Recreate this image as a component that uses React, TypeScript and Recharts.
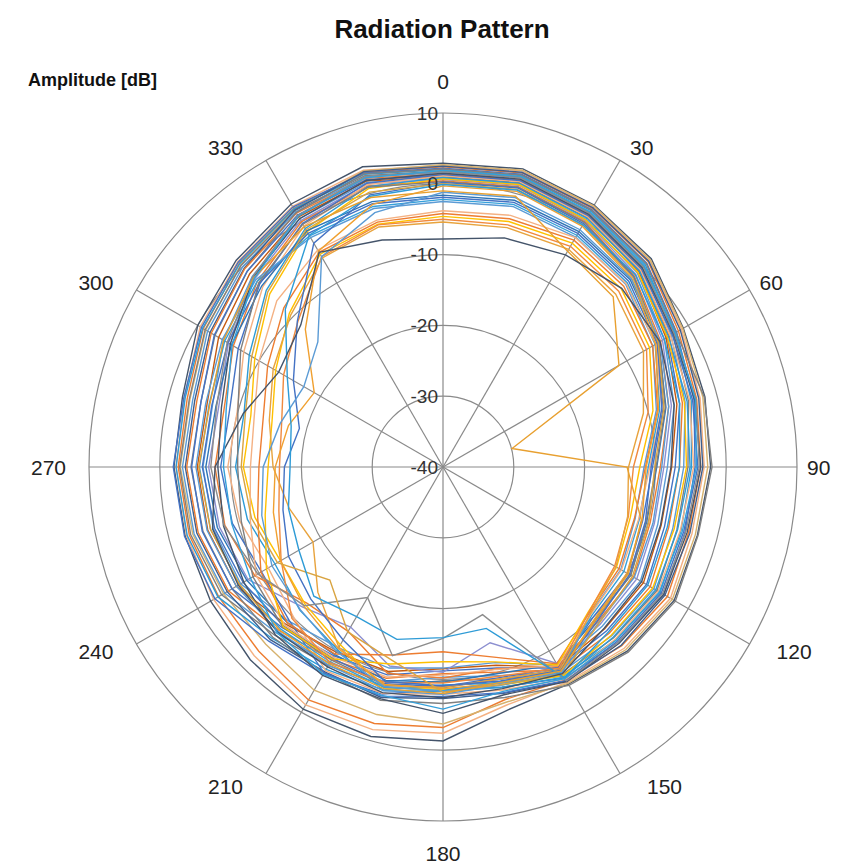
import React from 'react';
import { RadarChart, Radar, PolarGrid, PolarAngleAxis, PolarRadiusAxis } from 'recharts';

// Measurement angles (degrees, clockwise from top)
const angles = [0, 15, 30, 45, 60, 75, 90, 105, 120, 135, 150, 165, 180, 195, 210, 225, 240, 255, 270, 285, 300, 315, 330, 345];
const angleTickLabels = [0, 30, 60, 90, 120, 150, 180, 210, 240, 270, 300, 330];
const radiusTicks = [-40, -30, -20, -10, 0, 10];

// Amplitude in dB, one array per measurement (values per angle above)
const s01 = [2.9, 3.6, 2.7, 1.6, -0.8, -1.7, -2.2, -2.8, -2.3, -3.2, -4.6, -4.5, -1.3, -0.6, -0.5, -1.5, -2.1, -2.3, -2.0, -1.9, 0.0, 1.3, 2.9, 3.9];
const s02 = [2.6, 3.3, 2.5, 1.3, -1.1, -2.4, -3.1, -3.6, -2.9, -3.8, -4.9, -5.2, -2.4, -1.6, -1.2, -2.3, -2.6, -2.5, -2.3, -2.2, -0.4, 1.0, 2.5, 3.4];
const s03 = [2.4, 3.0, 2.2, 1.0, -1.6, -2.9, -3.6, -4.1, -3.4, -4.3, -5.3, -6.0, -3.2, -2.5, -2.0, -3.2, -3.4, -2.9, -2.6, -2.6, -0.9, 0.7, 2.2, 3.1];
const s04 = [2.7, 3.4, 2.6, 1.4, -0.9, -2.0, -2.6, -3.1, -2.6, -3.5, -4.7, -5.6, -3.7, -3.8, -3.6, -4.6, -4.2, -3.4, -2.9, -3.0, -1.3, 0.4, 2.0, 3.3];
const s05 = [2.2, 2.8, 2.0, 0.7, -1.9, -3.3, -4.4, -4.6, -4.0, -5.0, -5.6, -7.8, -8.5, -6.8, -6.2, -5.2, -2.8, -2.2, -1.9, -2.1, -0.6, 0.9, 2.4, 3.0];
const s06 = [2.0, 2.6, 1.8, 0.4, -2.2, -3.7, -4.9, -5.2, -4.6, -5.5, -5.9, -8.4, -9.2, -7.4, -7.0, -5.8, -3.3, -2.6, -2.3, -2.3, -0.8, 0.6, 2.1, 2.8];
const s07 = [1.8, 2.4, 1.5, 0.1, -2.5, -4.1, -5.4, -5.8, -5.1, -5.9, -6.2, -9.0, -9.8, -8.0, -7.6, -6.4, -3.9, -3.1, -2.8, -2.9, -1.2, 0.3, 1.8, 2.6];
const s08 = [1.6, 2.2, 1.3, -0.2, -2.8, -4.6, -6.0, -6.4, -5.6, -6.3, -6.5, -9.5, -10.3, -8.6, -8.0, -6.8, -4.4, -3.6, -3.2, -3.4, -1.6, 0.0, 1.6, 2.4];
const s09 = [2.5, 3.1, 2.3, 1.1, -1.3, -2.6, -3.3, -3.9, -3.8, -4.4, -5.1, -6.9, -7.3, -6.3, -6.6, -5.5, -4.8, -4.0, -3.6, -3.7, -2.0, -0.3, 1.9, 3.2];
const s10 = [1.4, 2.0, 1.1, -0.5, -3.1, -5.0, -6.6, -7.0, -6.2, -6.8, -6.9, -10.0, -10.8, -9.1, -8.6, -7.3, -5.0, -4.2, -3.8, -4.0, -2.2, -0.4, 1.4, 2.2];
const s11 = [2.1, 2.7, 1.9, 0.6, -2.0, -1.8, -2.0, -2.7, -2.1, -3.0, -4.4, -6.3, -6.6, -5.9, -6.4, -6.0, -5.6, -4.9, -4.4, -4.6, -2.8, -0.9, 1.5, 2.9];
const s12 = [1.2, 1.8, 0.9, -0.7, -3.4, -5.4, -7.2, -7.6, -6.8, -7.3, -7.2, -10.6, -11.2, -9.6, -9.2, -7.9, -5.6, -4.8, -4.5, -4.6, -2.7, -0.9, 1.1, 2.0];
const s13 = [1.0, 1.6, 0.7, -0.9, -3.6, -5.8, -7.7, -8.1, -7.3, -7.7, -7.4, -11.0, -11.5, -10.1, -9.8, -8.6, -6.3, -5.6, -5.3, -5.5, -3.4, -1.4, 0.8, 1.8];
const s14 = [0.8, 1.4, 0.4, -1.2, -3.9, -6.2, -8.3, -8.6, -7.8, -8.2, -7.7, -11.4, -11.6, -10.6, -10.5, -9.2, -7.0, -6.4, -6.1, -6.3, -4.2, -1.9, 0.5, 1.6];
const s15 = [0.6, 1.2, 0.2, -1.5, -4.2, -6.6, -8.8, -9.1, -8.4, -8.6, -8.0, -14.3, -11.0, -10.9, -13.9, -12.0, -8.2, -7.3, -6.9, -7.2, -5.0, -2.4, 0.2, 1.4];
const s16 = [0.4, 1.0, 0.0, -1.8, -4.5, -7.0, -9.3, -9.7, -8.9, -9.1, -7.5, -10.5, -10.2, -9.8, -13.2, -12.8, -9.3, -8.1, -7.8, -8.0, -5.8, -2.9, 0.0, 1.1];
const s17 = [1.3, 1.9, 1.0, -0.4, -2.6, -3.5, -4.0, -4.8, -4.4, -5.2, -5.2, -7.0, -7.6, -6.5, -6.4, -9.3, -10.4, -9.2, -8.6, -8.8, -6.6, -3.4, -0.3, 1.5];
const s18 = [1.1, 1.7, 0.8, -0.6, -2.9, -3.9, -4.6, -5.3, -4.9, -5.6, -5.4, -7.4, -7.9, -6.9, -6.8, -10.1, -11.5, -10.3, -9.6, -9.9, -7.5, -4.0, -0.7, 1.3];
const s19 = [0.9, 1.5, 0.6, -0.8, -3.2, -4.3, -5.1, -5.7, -5.3, -6.0, -5.7, -7.8, -8.3, -7.3, -10.2, -11.4, -12.6, -11.4, -10.7, -10.9, -8.4, -4.7, -1.1, 1.0];
const s20 = [0.7, 1.3, 0.3, -1.1, -3.4, -4.7, -5.6, -6.2, -5.8, -6.4, -6.0, -8.1, -8.6, -7.7, -11.0, -12.5, -13.5, -12.5, -11.8, -11.9, -9.3, -5.4, -1.6, 0.7];
const s21 = [-1.6, -1.0, -1.6, -2.6, -4.8, -7.4, -9.8, -10.2, -9.4, -9.6, -7.8, -9.8, -9.6, -8.8, -9.4, -8.9, -8.0, -7.0, -6.5, -6.8, -5.5, -3.8, -1.5, -1.2];
const s22 = [-1.9, -1.3, -1.9, -2.9, -5.1, -7.8, -10.4, -10.8, -9.9, -10.0, -7.3, -9.2, -9.0, -8.3, -8.8, -8.2, -7.4, -6.6, -6.0, -6.2, -4.9, -3.3, -1.9, -1.5];
const s23 = [-2.2, -1.6, -2.2, -3.2, -5.4, -8.3, -11.0, -11.3, -10.5, -10.3, -6.8, -8.6, -8.4, -7.8, -8.2, -7.6, -6.8, -6.0, -5.6, -5.8, -4.4, -2.9, -2.3, -1.9];
const s24 = [-2.5, -1.9, -2.5, -3.5, -5.8, -8.8, -11.6, -11.9, -11.0, -10.6, -6.4, -8.1, -7.9, -7.3, -7.7, -7.1, -6.3, -5.5, -5.1, -5.3, -4.0, -2.6, -2.6, -2.2];
const s25 = [0.3, 0.9, -0.1, -1.9, -4.8, -7.5, -9.9, -10.3, -9.4, -9.4, -7.0, -9.0, -8.8, -8.1, -8.5, -8.0, -9.0, -10.5, -11.0, -10.0, -7.0, -3.2, -0.4, 0.9];
const s26 = [1.5, 2.1, 1.2, -0.2, -2.4, -3.2, -3.6, -4.3, -4.0, -4.8, -5.0, -6.7, -5.2, -6.1, -6.0, -6.5, -7.5, -7.9, -8.2, -7.6, -5.3, -2.1, 0.5, 1.9];
const s27 = [-3.8, -3.2, -2.6, -3.4, -5.3, -8.0, -10.8, -11.4, -10.9, -10.5, -7.6, -10.4, -10.6, -9.3, -9.0, -8.4, -9.5, -11.8, -12.8, -12.4, -10.0, -6.8, -4.6, -3.9];
const s28 = [-4.2, -3.7, -3.0, -3.9, -5.8, -8.6, -11.4, -12.0, -11.3, -10.8, -7.9, -12.2, -13.9, -12.5, -9.5, -8.9, -10.3, -12.9, -14.0, -13.7, -11.4, -8.2, -5.0, -4.2];
const s29 = [-4.6, -4.1, -3.5, -4.4, -6.3, -9.3, -12.2, -12.6, -11.7, -11.0, -7.7, -11.5, -12.5, -11.2, -8.7, -8.1, -11.2, -14.0, -15.3, -15.0, -12.7, -9.3, -5.3, -4.5];
const s30 = [-5.0, -4.6, -4.0, -4.9, -6.8, -10.0, -13.1, -12.9, -12.0, -10.9, -7.2, -9.4, -9.5, -8.5, -8.1, -9.8, -13.6, -16.0, -16.9, -16.4, -14.0, -11.0, -5.7, -4.6];
const s31 = [-5.4, -5.0, -4.5, -5.5, -7.3, -10.7, -13.8, -13.0, -11.8, -10.6, -6.9, -9.0, -8.9, -8.0, -10.6, -15.0, -18.8, -17.5, -16.0, -14.6, -12.3, -9.6, -5.9, -4.9];
const s32 = [0.2, 0.8, -0.3, -2.0, -5.0, -8.0, -10.6, -10.4, -9.6, -9.2, -6.8, -8.7, -9.1, -8.6, -11.8, -13.6, -14.8, -16.6, -17.6, -19.0, -15.6, -10.9, -3.5, -0.2];
const s33 = [-0.3, 0.3, -0.7, -2.3, -5.3, -8.5, -11.3, -10.9, -10.0, -9.7, -6.6, -8.4, -8.7, -8.2, -10.4, -12.2, -13.5, -15.2, -16.3, -17.4, -19.0, -12.5, -4.8, -1.6];
const s34 = [-1.2, -0.6, -1.3, -2.4, -4.6, -7.0, -9.1, -9.3, -8.8, -8.9, -6.5, -8.4, -8.3, -7.9, -9.9, -11.5, -12.1, -13.5, -14.6, -16.2, -17.3, -15.0, -5.7, -2.8];
const s35 = [1.7, 2.3, 1.4, 0.0, -2.3, -3.0, -3.8, -4.5, -4.2, -5.0, -5.1, -18.4, -15.8, -12.4, -18.7, -12.3, -9.8, -8.0, -7.2, -6.9, -4.8, -2.0, 1.0, 2.5];
const s36 = [0.0, 0.6, -0.5, -2.1, -4.9, -7.7, -10.1, -9.9, -9.1, -8.8, -6.2, -8.2, -8.2, -11.8, -13.1, -17.4, -13.0, -12.0, -11.5, -11.1, -8.8, -5.0, -1.3, 0.2];
const s37 = [-0.1, 0.5, -0.5, -1.6, -3.9, -5.4, -6.6, -7.2, -6.6, -7.0, -5.6, -16.4, -15.9, -14.8, -15.6, -14.2, -16.5, -17.4, -18.4, -17.8, -14.6, -8.5, -2.2, -0.4];
const s38 = [-1.0, -0.4, -4.8, -6.0, -11.3, -29.9, -14.0, -11.0, -9.8, -9.5, -6.7, -8.5, -8.0, -7.6, -7.9, -7.4, -6.8, -6.0, -5.5, -5.9, -4.2, -2.2, -0.8, -0.6];
const s39 = [-7.8, -6.5, -5.4, -4.3, -4.6, -6.2, -7.8, -8.2, -7.6, -7.8, -6.3, -7.6, -7.4, -7.0, -7.4, -7.0, -6.6, -6.3, -7.8, -10.8, -13.2, -11.6, -5.0, -6.8];
const s40 = [1.9, 2.5, 1.6, 0.2, -2.1, -3.1, -4.2, -5.0, -4.7, -5.4, -5.5, -7.2, -5.8, -6.6, -6.2, -6.9, -8.6, -9.1, -9.0, -8.3, -5.6, -2.3, 0.9, 2.3];

const seriesValues = [s01, s02, s03, s04, s05, s06, s07, s08, s09, s10, s11, s12, s13, s14, s15, s16, s17, s18, s19, s20,
  s21, s22, s23, s24, s25, s26, s27, s28, s29, s30, s31, s32, s33, s34, s35, s36, s37, s38, s39, s40];

const seriesColors = [
  '#44546A', '#F4B183', '#ED7D31', '#D6B26E', '#4472C4', '#2E9BD6', '#7F7F7F', '#5B9BD5', '#3F5E8C', '#ED7D31',
  '#808080', '#4472C4', '#C55A11', '#5B9BD5', '#8C8FD0', '#ED7D31', '#4472C4', '#F4B183', '#2E9BD6', '#FFC000',
  '#2E75B6', '#4472C4', '#35A0DA', '#5B9BD5', '#7F7F7F', '#44546A', '#F4B183', '#ED7D31', '#FFC000', '#F08A3E',
  '#E8A33D', '#4472C4', '#F0A030', '#5B9BD5', '#8C8C8C', '#D9A441', '#2E9BD6', '#E8A030', '#44546A', '#35A0DA',
];

const keys = seriesValues.map((_, k) => `s${k + 1}`);

const data = angles.map((a, i) => {
  const row: Record<string, number> = { angle: a };
  seriesValues.forEach((s, k) => {
    row[keys[k]] = s[i];
  });
  return row;
});

const W = 845;
const H = 867;
const CX = 443;
const CY = 467;
const R = 354;
const RMIN = radiusTicks[0];
const RMAX = radiusTicks[radiusTicks.length - 1];

const gridAngles = angleTickLabels.map((a) => 90 - a);
const gridRadii = radiusTicks.filter((v) => v > RMIN).map((v) => ((v - RMIN) / (RMAX - RMIN)) * R);

const FONT = '"Liberation Sans", Arial, Helvetica, sans-serif';

const AngleTick = (props: any) => {
  const v = Number(props?.payload?.value);
  if (!angleTickLabels.includes(v)) return <g />;
  const rad = (v * Math.PI) / 180;
  const s = Math.sin(rad);
  const c = Math.cos(rad);
  const px = CX + R * s;
  const py = CY - R * c;
  const common = { fontSize: 21, fill: '#222', fontFamily: FONT, dominantBaseline: 'central' as const };
  if (Math.abs(s) < 0.01) {
    return (
      <text x={px} y={py - Math.sign(c) * 32} textAnchor="middle" {...common}>
        {v}
      </text>
    );
  }
  // right-upper labels sit closer to the ring, the others further out
  const gap = s > 0 ? (c > -0.01 ? 10 : 27) : 23;
  return (
    <text x={px + Math.sign(s) * gap} y={py - c * 15} textAnchor={s > 0 ? 'start' : 'end'} {...common}>
      {v}
    </text>
  );
};

const RadiusTick = (props: any) => {
  const { x, y, payload } = props;
  return (
    <text x={x - 5} y={y} textAnchor="end" dominantBaseline="central" fontSize={19} fill="#333" fontFamily={FONT}>
      {payload.value}
    </text>
  );
};

export default function App() {
  return (
    <div style={{ position: 'absolute', left: 0, top: 0, width: W, height: H, background: '#fff' }}>
      <div
        style={{
          position: 'absolute', left: 0, top: 15, width: 884, textAlign: 'center',
          fontFamily: FONT, fontWeight: 'bold', fontSize: 26, lineHeight: '28px', color: '#111',
        }}
      >
        Radiation Pattern
      </div>
      <div
        style={{
          position: 'absolute', left: 28, top: 70, fontFamily: FONT, fontWeight: 'bold',
          fontSize: 18, lineHeight: '20px', color: '#111', whiteSpace: 'nowrap',
        }}
      >
        Amplitude [dB]
      </div>
      <div style={{ position: 'absolute', left: 0, top: 0 }}>
        <RadarChart width={W} height={H} data={data} cx={CX} cy={CY} outerRadius={R} margin={{ top: 0, right: 0, bottom: 0, left: 0 }}>
          <PolarGrid gridType="circle" polarAngles={gridAngles} polarRadius={gridRadii} stroke="#8a8a8a" strokeWidth={1.2} />
          <PolarAngleAxis dataKey="angle" axisLine={false} tickLine={false} tick={AngleTick} />
          <PolarRadiusAxis angle={90} type="number" domain={[RMIN, RMAX]} tickCount={radiusTicks.length} axisLine={false} tickLine={false} tick={RadiusTick} />
          {keys.map((k, i) => (
            <Radar
              key={k}
              dataKey={k}
              stroke={seriesColors[i]}
              strokeWidth={1.4}
              fill="none"
              fillOpacity={0}
              dot={false}
              isAnimationActive={false}
            />
          ))}
        </RadarChart>
      </div>
    </div>
  );
}
